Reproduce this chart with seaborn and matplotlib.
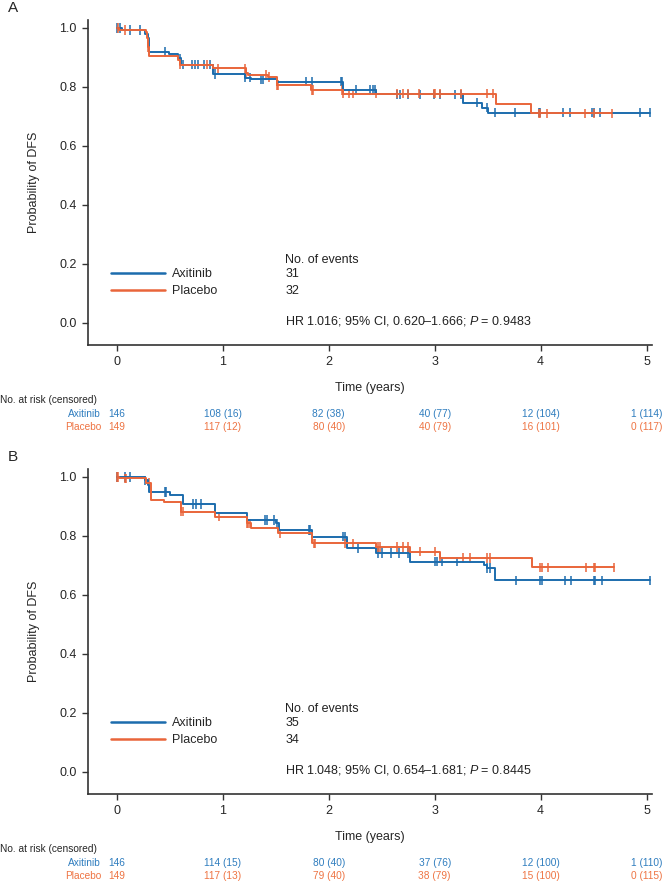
import numpy as np
import pandas as pd
import matplotlib
matplotlib.use("Agg")
import matplotlib.pyplot as plt
import matplotlib.transforms as mtransforms
import seaborn as sns

sns.set_style("ticks")
plt.rcParams['font.family'] = ['Liberation Sans', 'DejaVu Sans']
plt.rcParams['mathtext.fontset'] = 'custom'
plt.rcParams['mathtext.rm'] = 'Liberation Sans'
plt.rcParams['mathtext.it'] = 'Liberation Sans:italic'

BLUE = '#1c6cad'
ORANGE = '#e9653a'
BLUE_TXT = '#2f7dbf'
ORANGE_TXT = '#ee7443'

arms = ["Axitinib", "Placebo"]
risk_times = [0, 1, 2, 3, 4, 5]

# ---- Panel A: KM steps (time, survival after the step) ----
a_ax_t = [0, 0.05, 0.27, 0.30, 0.31, 0.49, 0.58, 0.61, 0.91, 1.21, 1.27, 1.51, 2.14, 2.45, 3.27, 3.45, 3.50, 5.03]
a_ax_s = [1.0, 0.993, 0.979, 0.965, 0.918, 0.911, 0.897, 0.876, 0.844, 0.832, 0.826, 0.818, 0.790, 0.775, 0.747, 0.730, 0.713, 0.713]
a_pl_t = [0, 0.02, 0.28, 0.29, 0.30, 0.31, 0.58, 0.60, 0.91, 1.22, 1.24, 1.43, 1.51, 1.83, 2.14, 3.58, 3.91, 4.67]
a_pl_s = [1.0, 0.993, 0.986, 0.965, 0.935, 0.906, 0.890, 0.875, 0.863, 0.848, 0.841, 0.834, 0.807, 0.790, 0.777, 0.742, 0.711, 0.711]
a_ax_cens = [0.0, 0.03, 0.13, 0.22, 0.46, 0.60, 0.63, 0.71, 0.74, 0.77, 0.82, 0.88, 0.93, 1.21, 1.26, 1.36, 1.38,
             1.51, 1.79, 1.84, 2.12, 2.13, 2.26, 2.39, 2.42, 2.44, 2.64, 2.67, 2.75, 2.86, 2.99, 3.05, 3.19, 3.25,
             3.40, 3.49, 3.57, 3.76, 3.98, 3.99, 4.21, 4.28, 4.48, 4.50, 4.56, 4.94, 5.03]
a_pl_cens = [0.01, 0.08, 0.30, 0.60, 0.85, 0.91, 0.96, 1.21, 1.22, 1.41, 1.44, 1.51, 1.52, 1.84, 1.85, 2.13, 2.14,
             2.19, 2.23, 2.45, 2.64, 2.70, 2.75, 2.85, 2.99, 3.00, 3.05, 3.25, 3.49, 3.55, 3.98, 3.99, 4.06, 4.42,
             4.50, 4.67]
a_events = [31, 32]
a_hr = r"HR 1.016; 95% CI, 0.620–1.666; $\mathit{P}$ = 0.9483"
a_risk_ax = ["146", "108 (16)", "82 (38)", "40 (77)", "12 (104)", "1 (114)"]
a_risk_pl = ["149", "117 (12)", "80 (40)", "40 (79)", "16 (101)", "0 (117)"]

# ---- Panel B ----
b_ax_t = [0, 0.27, 0.30, 0.31, 0.50, 0.63, 0.93, 1.23, 1.50, 1.53, 1.84, 2.17, 2.45, 2.77, 3.47, 3.49, 3.57, 5.03]
b_ax_s = [1.0, 0.989, 0.972, 0.949, 0.938, 0.908, 0.877, 0.854, 0.843, 0.820, 0.798, 0.758, 0.742, 0.713, 0.700, 0.691, 0.649, 0.649]
b_pl_t = [0, 0.02, 0.28, 0.32, 0.45, 0.61, 0.93, 1.23, 1.27, 1.52, 1.84, 2.45, 2.77, 3.05, 3.92, 4.69]
b_pl_s = [1.0, 0.995, 0.979, 0.921, 0.914, 0.882, 0.865, 0.843, 0.826, 0.809, 0.775, 0.762, 0.747, 0.725, 0.694, 0.694]
b_ax_cens = [0.0, 0.08, 0.13, 0.27, 0.46, 0.47, 0.72, 0.75, 0.80, 1.40, 1.42, 1.48, 1.51, 1.81, 1.82, 2.14, 2.15,
             2.28, 2.47, 2.50, 2.59, 2.66, 2.75, 3.00, 3.02, 3.07, 3.21, 3.49, 3.52, 3.77, 3.99, 4.01, 4.23, 4.29,
             4.50, 4.51, 4.58, 5.03]
b_pl_cens = [0.0, 0.015, 0.08, 0.09, 0.31, 0.61, 0.63, 0.97, 1.23, 1.24, 1.26, 1.54, 1.86, 1.87, 2.15, 2.17, 2.23,
             2.47, 2.48, 2.64, 2.70, 2.75, 2.86, 3.00, 3.05, 3.27, 3.33, 3.49, 3.52, 3.99, 4.01, 4.07, 4.43, 4.50,
             4.51, 4.69]
b_events = [35, 34]
b_hr = r"HR 1.048; 95% CI, 0.654–1.681; $\mathit{P}$ = 0.8445"
b_risk_ax = ["146", "114 (15)", "80 (40)", "37 (76)", "12 (100)", "1 (110)"]
b_risk_pl = ["149", "117 (13)", "79 (40)", "38 (79)", "15 (100)", "0 (115)"]

W, H = 668, 886
fig = plt.figure(figsize=(W / 100, H / 100), dpi=100)


def surv_at(times, surv, t):
    idx = np.searchsorted(times, t, side='right') - 1
    return np.asarray(surv)[idx]


def draw_panel(top_px, label, steps, cens, events, hr, risk_ax, risk_pl):
    # axes box in pixels: left 88, right 652, spine y = top_px + 325
    left, right = 88, 652
    bottom_px = top_px + 325
    ax = fig.add_axes([left / W, 1 - bottom_px / H, (right - left) / W, 325 / H])

    curves = pd.concat([pd.DataFrame({"time": t, "surv": s, "arm": a})
                        for a, (t, s) in zip(arms, steps)], ignore_index=True)
    sns.lineplot(data=curves, x="time", y="surv", hue="arm", palette=[BLUE, ORANGE],
                 estimator=None, sort=False, drawstyle="steps-post", linewidth=1.4, ax=ax)

    marks = pd.concat([pd.DataFrame({"time": c, "surv": surv_at(t, s, c), "arm": a})
                       for a, (t, s), c in zip(arms, steps, cens)], ignore_index=True)
    sns.scatterplot(data=marks, x="time", y="surv", hue="arm", palette=[BLUE, ORANGE],
                    marker="|", s=45, linewidth=1.1, legend=False, ax=ax)

    ax.set_xlim(-0.27, 5.05)
    ax.set_ylim(-0.075, 1.027)
    ax.set_xticks(range(6))
    ax.set_yticks(np.arange(0, 1.01, 0.2))
    ax.set_yticklabels([f"{v:.1f}" for v in np.arange(0, 1.01, 0.2)])
    ax.tick_params(labelsize=9, length=4, width=1, color='#333333', pad=4)
    for sp in ["left", "bottom"]:
        ax.spines[sp].set_linewidth(1.2)
        ax.spines[sp].set_color('#333333')
    sns.despine(ax=ax)
    ax.set_xlabel("Time (years)", fontsize=9, labelpad=10)
    ax.set_ylabel("Probability of DFS", fontsize=9, labelpad=14)

    leg = ax.legend(loc="center left", bbox_to_anchor=(0.041, 0.192), frameon=False, fontsize=9,
                    handlelength=4.3, handletextpad=0.6, labelspacing=0.42, borderaxespad=0, borderpad=0)
    for line in leg.get_lines():
        line.set_linewidth(1.8)

    ax.text(1.59, 0.213, "No. of events", fontsize=9, va="center", color='#222222')
    ax.text(1.59, 0.166, str(events[0]), fontsize=9, va="center", color='#222222')
    ax.text(1.59, 0.108, str(events[1]), fontsize=9, va="center", color='#222222')
    ax.text(1.59, 0.007, hr, fontsize=9, va="center", color='#222222')

    fig.text(8 / W, 1 - (top_px - 12) / H, label, fontsize=11, va="center", ha="left")

    trans = mtransforms.blended_transform_factory(ax.transData, fig.transFigure)
    y0 = bottom_px + 55
    fig.text(0, 1 - y0 / H, "No. at risk (censored)", fontsize=7.3, va="center", ha="left")
    fig.text(101 / W, 1 - (y0 + 14) / H, arms[0], fontsize=7.3, va="center", ha="right", color=BLUE_TXT)
    fig.text(101 / W, 1 - (y0 + 27) / H, arms[1], fontsize=7.3, va="center", ha="right", color=ORANGE_TXT)
    for x, ta, tp in zip(risk_times, risk_ax, risk_pl):
        ax.text(x, 1 - (y0 + 14) / H, ta, transform=trans, fontsize=7.3, va="center", ha="center", color=BLUE_TXT)
        ax.text(x, 1 - (y0 + 27) / H, tp, transform=trans, fontsize=7.3, va="center", ha="center", color=ORANGE_TXT)


draw_panel(20, "A", [(a_ax_t, a_ax_s), (a_pl_t, a_pl_s)], [a_ax_cens, a_pl_cens],
           a_events, a_hr, a_risk_ax, a_risk_pl)
draw_panel(469, "B", [(b_ax_t, b_ax_s), (b_pl_t, b_pl_s)], [b_ax_cens, b_pl_cens],
           b_events, b_hr, b_risk_ax, b_risk_pl)

fig.savefig("out.png", dpi=100)
